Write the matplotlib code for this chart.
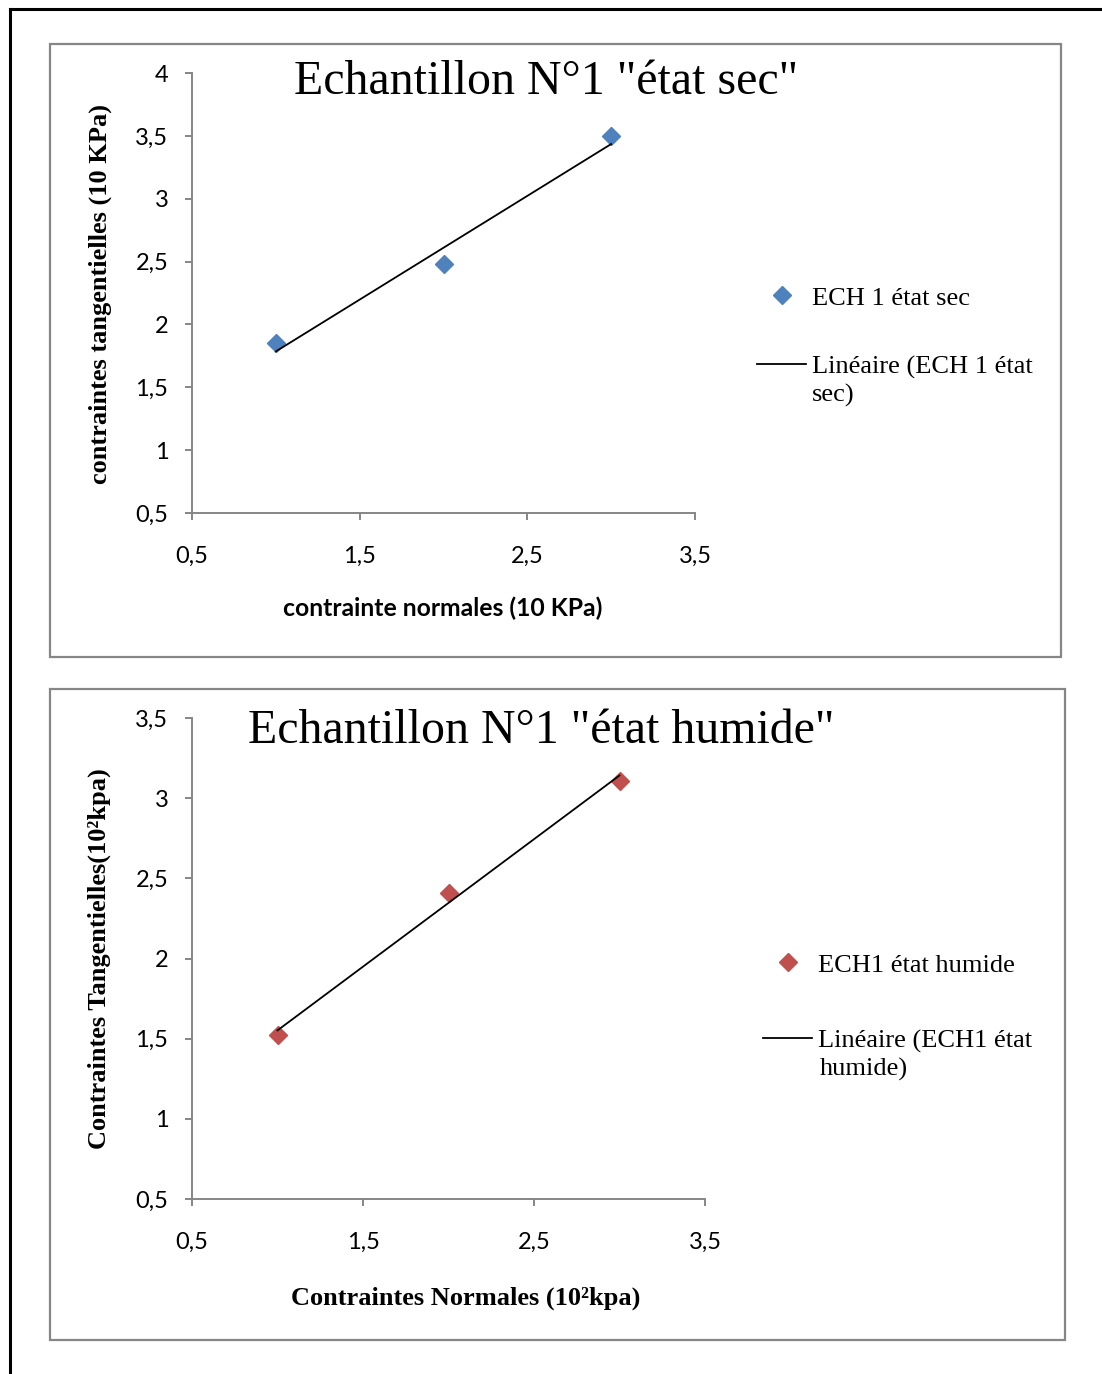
import numpy as np
import matplotlib
matplotlib.use("Agg")
import matplotlib.pyplot as plt
from matplotlib.patches import Rectangle
from matplotlib.lines import Line2D

# ============================================================
# DATA
# ============================================================

x_sec = [1, 2, 3]
y_sec = [1.85, 2.48, 3.5]

x_hum = [1, 2, 3]
y_hum = [1.52, 2.41, 3.11]

xticks = [0.5, 1.5, 2.5, 3.5]
yticks_sec = [0.5, 1, 1.5, 2, 2.5, 3, 3.5, 4]
yticks_hum = [0.5, 1, 1.5, 2, 2.5, 3, 3.5]

BLUE = "#4F81BD"
RED = "#C0504D"
GRAY = "#868686"
W, H = 1102, 1374
LEG_FONT = {"family": "Liberation Serif", "size": 19}

def fr(val):
    # French decimal comma
    s = f"{val:g}"
    return s.replace(".", ",")

def style_axes(ax, yticks, ylim):
    ax.set_xlim(0.5, 3.5)
    ax.set_ylim(*ylim)
    ax.set_xticks(xticks)
    ax.set_yticks(yticks)
    ax.set_xticklabels([fr(v) for v in xticks], family="Lato", fontsize=17)
    ax.set_yticklabels([fr(v) for v in yticks], family="Lato", fontsize=17)
    for s in ("top", "right"):
        ax.spines[s].set_visible(False)
    for s in ("left", "bottom"):
        ax.spines[s].set_color(GRAY)
        ax.spines[s].set_linewidth(1.4)
    ax.tick_params(axis="both", direction="out", length=5, width=1.4, color=GRAY)
    ax.tick_params(axis="x", pad=19)
    ax.tick_params(axis="y", pad=12)

def draw_series(ax, x, y, color, label, fit_label):
    ax.plot(x, y, linestyle="none", marker="D", markersize=9.5,
            color=color, label=label, zorder=3)
    slope, icpt = np.polyfit(x, y, 1)
    xs = np.array([min(x), max(x)])
    ax.plot(xs, slope * xs + icpt, color="black", lw=1.3, label=fit_label, zorder=4)

def add_legend(ax, x_px, y_px, spacing, extra, extra_x_px, extra_y_px):
    ax.legend(loc="upper left", bbox_to_anchor=(x_px / W, 1 - y_px / H),
              bbox_transform=fig.transFigure, frameon=False, prop=LEG_FONT,
              handlelength=1.85, handletextpad=0.23, labelspacing=spacing, borderpad=0)
    # wrapped second line of the trend-line label
    fig.text(extra_x_px / W, 1 - extra_y_px / H, extra, ha="left", va="center",
             **LEG_FONT)

fig = plt.figure(figsize=(W / 100, H / 100), dpi=100)

# outer page border (top and left)
fig.add_artist(Line2D([10 / W, 1.0], [1 - 9 / H, 1 - 9 / H], color="black", lw=2.2,
                      transform=fig.transFigure))
fig.add_artist(Line2D([10 / W, 10 / W], [1 - 9 / H, 0], color="black", lw=2.2,
                      transform=fig.transFigure))

# chart frames
fig.add_artist(Rectangle((50 / W, 1 - 657 / H), 1011 / W, 613 / H, fill=False,
                         edgecolor=GRAY, lw=1.6, transform=fig.transFigure))
fig.add_artist(Rectangle((50 / W, 1 - 1340 / H), 1015 / W, 651 / H, fill=False,
                         edgecolor=GRAY, lw=1.6, transform=fig.transFigure))

# ============================================================
# TOP CHART
# ============================================================
ax1 = fig.add_axes([192 / W, 1 - 513 / H, 503 / W, 440 / H])
draw_series(ax1, x_sec, y_sec, BLUE, "ECH 1 état sec", "Linéaire (ECH 1 état")
style_axes(ax1, yticks_sec, (0.5, 4))
ax1.set_xlabel("contrainte normales (10 KPa)", family="Lato", fontweight="bold", fontsize=17.8)
ax1.xaxis.set_label_coords(0.499, -0.216)
ax1.xaxis.label.set_va("center")
ax1.set_ylabel("contraintes tangentielles (10 KPa)", family="Liberation Serif",
               fontweight="bold", fontsize=19)
ax1.yaxis.set_label_coords(-0.183, 0.498)
ax1.yaxis.label.set_va("center")
fig.text(546 / W, 1 - 82 / H, 'Echantillon N°1 "état sec"', family="Liberation Serif",
         fontsize=34.5, ha="center", va="center")
add_legend(ax1, 744, 273, 1.72, "sec)", 812, 395)

# ============================================================
# BOTTOM CHART
# ============================================================
ax2 = fig.add_axes([192 / W, 1 - 1199 / H, 513 / W, 481 / H])
draw_series(ax2, x_hum, y_hum, RED, "ECH1 état humide", "Linéaire (ECH1 état")
style_axes(ax2, yticks_hum, (0.5, 3.5))
ax2.set_xlabel("Contraintes Normales (10²kpa)", family="Liberation Serif",
               fontweight="bold", fontsize=19)
ax2.xaxis.set_label_coords(0.534, -0.206)
ax2.xaxis.label.set_va("center")
ax2.set_ylabel("Contraintes Tangentielles(10²kpa)", family="Liberation Serif",
               fontweight="bold", fontsize=19)
ax2.yaxis.set_label_coords(-0.181, 0.499)
ax2.yaxis.label.set_va("center")
fig.text(541 / W, 1 - 731 / H, 'Echantillon N°1 "état humide"', family="Liberation Serif",
         fontsize=34.5, ha="center", va="center")
add_legend(ax2, 750, 940, 1.98, "humide)", 820, 1069)

fig.savefig("out.png", dpi=100)
